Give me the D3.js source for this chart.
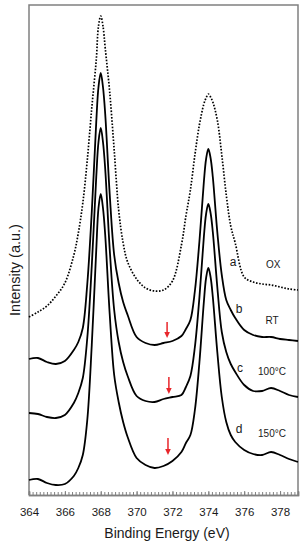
<!DOCTYPE html>
<html>
<head>
<meta charset="utf-8">
<script src="https://cdn.jsdelivr.net/npm/d3@7"></script>
<style>
body { margin: 0; background: #fff; }
svg { display: block; font-family: Arial, "Liberation Sans", sans-serif; }
</style>
</head>
<body>
<svg width="308" height="550"></svg>
<script>
// **** data (binding energy in eV, intensity in a.u.) ****

var energy = [364, 364.5, 365, 365.5, 366, 366.5, 366.75, 367, 367.25, 367.5, 367.75, 367.875,
    368, 368.125, 368.25, 368.5, 368.75, 369, 369.25, 369.5, 370, 370.5, 371, 371.5, 372, 372.5,
    372.75, 373, 373.25, 373.5, 373.75, 373.875, 374, 374.125, 374.25, 374.5, 374.75, 375, 375.25, 375.5,
    376, 376.5, 377, 377.5, 378, 378.5, 379];

var oxValues = [178, 183, 189, 199, 212, 240, 262, 292, 335, 387, 435, 469,
    479, 469, 447, 403, 345, 285, 252, 233, 216, 207, 204, 205, 214, 250,
    279, 305, 340, 370, 391, 397, 401, 398, 393, 375, 340, 300, 269, 252,
    218, 213, 211, 210, 208, 206, 205];

var rtValues = [136, 137, 133, 131, 134, 145, 153, 167, 211, 283, 373, 408,
    422, 408, 381, 301, 240, 212, 193, 180, 158, 152, 150, 152, 154, 159,
    166, 175, 204, 253, 313, 336, 346, 337, 318, 263, 220, 195, 185, 177,
    165, 160, 158, 158, 156, 155, 154];

var t100Values = [82, 81, 78, 77, 80, 92, 102, 117, 157, 229, 318, 353,
    367, 353, 326, 246, 185, 153, 133, 119, 99, 94, 93, 96, 98, 100,
    108, 119, 148, 197, 258, 281, 291, 282, 263, 208, 163, 143, 131, 123,
    110, 104, 104, 107, 104, 100, 98];

var t150Values = [15, 16, 12, 10, 11, 19, 27, 40, 75, 150, 245, 287,
    301, 287, 260, 181, 120, 93, 73, 58, 37, 30, 27, 29, 34, 43,
    52, 60, 85, 132, 193, 217, 227, 218, 198, 143, 98, 73, 60, 53,
    45, 41, 40, 43, 40, 36, 33];

var energyTicks = [364, 366, 368, 370, 372, 374, 376, 378];

var curveLetters = ["a", "b", "c", "d"];
var curveNames = ["OX", "RT", "100°C", "150°C"];

// arrows mark the weak shoulder near 371.7 eV on the three solid curves
var arrowEnergy = [371.7, 371.8, 371.75];
var arrowTop = [173, 118, 57];
var arrowTip = [157, 101, 40];

// **** scales and frame ****

var x = d3.scaleLinear().domain([364, 379]).range([29, 298]);
var y = d3.scaleLinear().domain([0, 490]).range([495, 5]);

var svg = d3.select('svg');
var gray = '#808080';

svg.append('path')
    .attr('d', 'M' + x(364) + ',' + y(0) + 'V' + y(490) + 'H' + x(379) + 'V' + y(0))
    .attr('fill', 'none')
    .attr('stroke', gray)
    .attr('stroke-width', 1.5);

var minorAxis = svg.append('g')
    .attr('transform', 'translate(0,' + y(0) + ')')
    .call(d3.axisBottom(x)
        .tickValues(d3.range(0, 76).map(function(i) { return 364 + i * 0.2; }))
        .tickSize(-3)
        .tickFormat(''));

var majorAxis = svg.append('g')
    .attr('transform', 'translate(0,' + y(0) + ')')
    .call(d3.axisBottom(x)
        .tickValues(energyTicks)
        .tickSize(-4)
        .tickPadding(13)
        .tickFormat(function(d) { return d; }));

[minorAxis, majorAxis].forEach(function(g) {
    g.select('.domain').attr('stroke', gray).attr('stroke-width', 1.5);
    g.selectAll('.tick line').attr('stroke', gray).attr('stroke-width', 1);
});
majorAxis.selectAll('.tick text')
    .attr('font-size', '11.5px')
    .attr('font-family', 'Arial, "Liberation Sans", sans-serif')
    .attr('fill', '#1a1a1a');

// axis labels
svg.append('text')
    .attr('text-anchor', 'middle')
    .attr('x', 167)
    .attr('y', 538)
    .attr('font-size', '14px')
    .attr('fill', '#1a1a1a')
    .text('Binding Energy (eV)');

svg.append('text')
    .attr('text-anchor', 'middle')
    .attr('transform', 'translate(20,270) rotate(-90)')
    .attr('font-size', '14.5px')
    .attr('fill', '#1a1a1a')
    .text('Intensity (a.u.)');

// **** spectra ****

var series = [oxValues, rtValues, t100Values, t150Values];

var line = d3.line()
    .x(function(d) { return x(d[0]); })
    .y(function(d) { return y(d[1]); })
    .curve(d3.curveCatmullRom.alpha(0.5));

svg.selectAll('path.spectrum')
    .data(series)
    .enter()
    .append('path')
    .attr('class', 'spectrum')
    .attr('d', function(vals) { return line(d3.zip(energy, vals)); })
    .attr('fill', 'none')
    .attr('stroke', '#000')
    .attr('stroke-width', function(d, i) { return i === 0 ? 1.7 : 1.8; })
    .attr('stroke-dasharray', function(d, i) { return i === 0 ? '1.6,1.6' : null; })
    .attr('stroke-linejoin', 'round');

// curve labels (letter + sample condition)
var letterPos = [[375.38, 232], [375.71, 185], [375.77, 126], [375.71, 65]];
var namePos = [[377.62, 230], [377.55, 174], [377.55, 123], [377.55, 61]];

svg.selectAll('text.letter')
    .data(curveLetters)
    .enter()
    .append('text')
    .attr('class', 'letter')
    .attr('text-anchor', 'middle')
    .attr('dominant-baseline', 'middle')
    .attr('x', function(d, i) { return x(letterPos[i][0]); })
    .attr('y', function(d, i) { return y(letterPos[i][1]); })
    .attr('font-size', '12px')
    .attr('fill', '#1a1a1a')
    .text(function(d) { return d; });

svg.selectAll('text.name')
    .data(curveNames)
    .enter()
    .append('text')
    .attr('class', 'name')
    .attr('text-anchor', 'middle')
    .attr('dominant-baseline', 'middle')
    .attr('x', function(d, i) { return x(namePos[i][0]); })
    .attr('y', function(d, i) { return y(namePos[i][1]); })
    .attr('font-size', '10px')
    .attr('fill', '#1a1a1a')
    .text(function(d) { return d; });

// red arrows
var red = '#e8262b';
arrowEnergy.forEach(function(e, i) {
    var ax = x(e), y0 = y(arrowTop[i]), y1 = y(arrowTip[i]);
    svg.append('line')
        .attr('x1', ax).attr('x2', ax)
        .attr('y1', y0).attr('y2', y1 - 4)
        .attr('stroke', red)
        .attr('stroke-width', 1.5);
    svg.append('path')
        .attr('d', 'M' + (ax - 2.8) + ',' + (y1 - 6) + 'L' + (ax + 2.8) + ',' + (y1 - 6) + 'L' + ax + ',' + y1 + 'Z')
        .attr('fill', red);
});
</script>
</body>
</html>
